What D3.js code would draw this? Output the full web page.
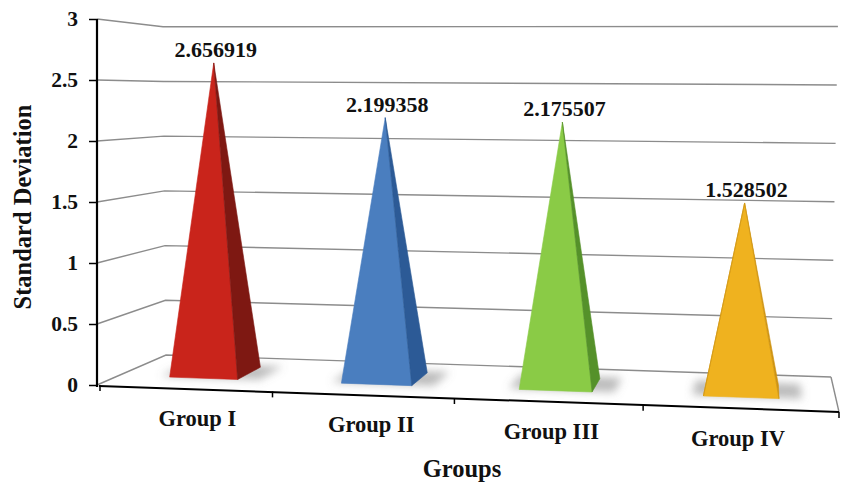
<!DOCTYPE html>
<html>
<head>
<meta charset="utf-8">
<script src="https://cdn.jsdelivr.net/npm/d3@7"></script>
<style>
  html, body { margin: 0; padding: 0; background: #fff; }
  svg { display: block; font-family: "Liberation Serif", "Times New Roman", serif; font-weight: bold; }
</style>
</head>
<body>
<svg id="chart" width="841" height="486"></svg>
<script>
// ---- data ----
const categories = ["Group I", "Group II", "Group III", "Group IV"];
const stdDev = [2.656919, 2.199358, 2.175507, 1.528502];
const yTicks = [0, 0.5, 1, 1.5, 2, 2.5, 3];
const frontColors = ["#c9241b", "#4a7ebf", "#8acb46", "#efb21f"];
const sideColors = ["#7e1812", "#2c5a96", "#55912a", "#cf9412"];

const svg = d3.select("#chart");

// ---- 3D perspective set-up ----
// floor corners on screen: front-left, front-right, back-right, back-left
const floorQuad = [[97, 385], [839, 412], [831, 377], [166, 355]];
// vanishing point of the vertical edges (they converge far below the chart)
const vVanish = [376, 23452];

// projective map from the unit square (s across, t into depth) onto the floor quad
function squareToQuad(q) {
  const [[x0, y0], [x1, y1], [x2, y2], [x3, y3]] = q;
  const dx1 = x1 - x2, dx2 = x3 - x2, sx = x0 - x1 + x2 - x3;
  const dy1 = y1 - y2, dy2 = y3 - y2, sy = y0 - y1 + y2 - y3;
  const den = dx1 * dy2 - dx2 * dy1;
  const g = (sx * dy2 - dx2 * sy) / den;
  const h = (dx1 * sy - sx * dy1) / den;
  return {
    a: x1 - x0 + g * x1, b: x3 - x0 + h * x3, c: x0,
    d: y1 - y0 + g * y1, e: y3 - y0 + h * y3, f: y0,
    g, h
  };
}
const M = squareToQuad(floorQuad);

// value axis along the front-left edge
const yScale = d3.scaleLinear().domain([0, 3]).range([floorQuad[0][1], 19]);
// categories across the floor (0..1 of floor width)
const xCat = d3.scaleBand().domain(categories).range([0, 1]);
// depth of the floor (0 front .. 1 back)
const zScale = d3.scaleLinear().domain([0, 1]).range([0, 1]);

// project a world point (s across, t depth, value v) to the screen
function project(s, t, v) {
  const w = M.g * s + M.h * t + 1;
  const X = (M.a * s + M.b * t + M.c) / w;
  const Y = (M.d * s + M.e * t + M.f) / w;
  const hgt = (yScale(0) - yScale(v)) / w;
  const lean = (X - vVanish[0]) * hgt / (vVanish[1] - Y);
  return [X + lean, Y - hgt];
}

const defs = svg.append("defs");
defs.append("filter").attr("id", "soft").attr("x", "-50%").attr("y", "-50%")
  .attr("width", "200%").attr("height", "200%")
  .append("feGaussianBlur").attr("stdDeviation", 4);

// ---- walls and floor ----
const grid = svg.append("g").attr("fill", "none").attr("stroke", "#8c8c8c")
  .attr("stroke-width", 1.4);

yTicks.forEach(v => {
  const back0 = project(0, zScale(1), v);
  const back1 = project(1, zScale(1), v);
  grid.append("polyline")
    .attr("points", [[97, yScale(v)], back0, back1].map(p => p.join(",")).join(" "));
});
// right edge of the floor
grid.append("line")
  .attr("x1", project(1, 1, 0)[0]).attr("y1", project(1, 1, 0)[1])
  .attr("x2", project(1, 0, 0)[0]).attr("y2", project(1, 0, 0)[1]);

// ---- pyramids ----
const halfW = xCat.bandwidth() * 0.2;
const halfD = 0.2;
const line = d3.line();

const shadows = svg.append("g").attr("filter", "url(#soft)");
const pyramids = svg.append("g");

categories.forEach((c, i) => {
  const sc = xCat(c) + xCat.bandwidth() / 2;
  const t0 = zScale(0.5 - halfD), t1 = zScale(0.5 + halfD);
  const FL = project(sc - halfW, t0, 0);
  const FR = project(sc + halfW, t0, 0);
  const BR = project(sc + halfW, t1, 0);
  const BL = project(sc - halfW, t1, 0);
  const apex = project(sc, zScale(0.5), stdDev[i]);

  // soft floor shadow around the base
  const sh = [
    project(sc - halfW * 1.3, t0 + 0.02, 0),
    project(sc + halfW * 1.6, t0 + 0.02, 0),
    project(sc + halfW * 1.6, t1 + 0.05, 0),
    project(sc - halfW * 1.3, t1 + 0.05, 0)
  ];
  shadows.append("path").attr("d", line(sh) + "Z")
    .attr("fill", "#777").attr("opacity", 0.5);

  // faces wound consistently; only those turned toward the viewer are drawn
  const faces = [
    { pts: [apex, FL, FR], fill: frontColors[i] },
    { pts: [apex, FR, BR], fill: sideColors[i] },
    { pts: [apex, BR, BL], fill: sideColors[i] },
    { pts: [apex, BL, FL], fill: sideColors[i] }
  ];
  faces.forEach(f => {
    if (d3.polygonArea(f.pts) > 0) {
      pyramids.append("path").attr("d", line(f.pts) + "Z")
        .attr("fill", f.fill).attr("stroke", f.fill).attr("stroke-width", 0.6)
        .attr("stroke-linejoin", "round");
    }
  });

  // value label above the apex
  svg.append("text")
    .attr("x", apex[0] + 2).attr("y", apex[1] - 6)
    .attr("text-anchor", "middle").attr("font-size", 22).attr("fill", "#111")
    .text(stdDev[i].toFixed(6));
});

// ---- category axis along the front edge ----
const front0 = project(0, 0, 0), front1 = project(1, 0, 0);
svg.append("line")
  .attr("x1", front0[0] + 2).attr("y1", front0[1] + 1)
  .attr("x2", front1[0]).attr("y2", front1[1])
  .attr("stroke", "#000").attr("stroke-width", 2);

d3.range(categories.length + 1).forEach(k => {
  const p = project(k / categories.length, 0, 0);
  svg.append("line")
    .attr("x1", p[0] + (k === 0 ? 3 : 0)).attr("y1", p[1])
    .attr("x2", p[0] + (k === 0 ? 3 : 0)).attr("y2", p[1] + 6)
    .attr("stroke", "#000").attr("stroke-width", 1.5);
});

categories.forEach(c => {
  const sc = xCat(c) + xCat.bandwidth() / 2;
  const p = project(sc, zScale(0.25), 0);
  const base = project(sc, 0, 0);
  svg.append("text")
    .attr("x", p[0] - 3).attr("y", base[1] + 37.5)
    .attr("text-anchor", "middle").attr("font-size", 22.5).attr("fill", "#111")
    .text(c);
});

// ---- value axis ----
const yAxis = d3.axisLeft(yScale)
  .tickValues(yTicks)
  .tickFormat(d => String(d))
  .tickSize(8).tickSizeOuter(0).tickPadding(11);

const gy = svg.append("g").attr("transform", "translate(97,0)").call(yAxis);
gy.select(".domain").attr("stroke", "#000").attr("stroke-width", 2.2)
  .attr("d", `M0,${yScale(3)}V${yScale(0) + 2}`);
gy.selectAll(".tick line").attr("stroke", "#000").attr("stroke-width", 1.5);
gy.selectAll(".tick text")
  .attr("font-family", "Liberation Serif, Times New Roman, serif")
  .attr("font-weight", "bold").attr("font-size", 21.5).attr("fill", "#111");

// ---- axis titles ----
svg.append("text")
  .attr("transform", "translate(31,207) rotate(-90)")
  .attr("text-anchor", "middle").attr("font-size", 24.5).attr("fill", "#111")
  .text("Standard Deviation");

svg.append("text")
  .attr("x", 462).attr("y", 477)
  .attr("text-anchor", "middle").attr("font-size", 24.5).attr("fill", "#111")
  .text("Groups");
</script>
</body>
</html>
